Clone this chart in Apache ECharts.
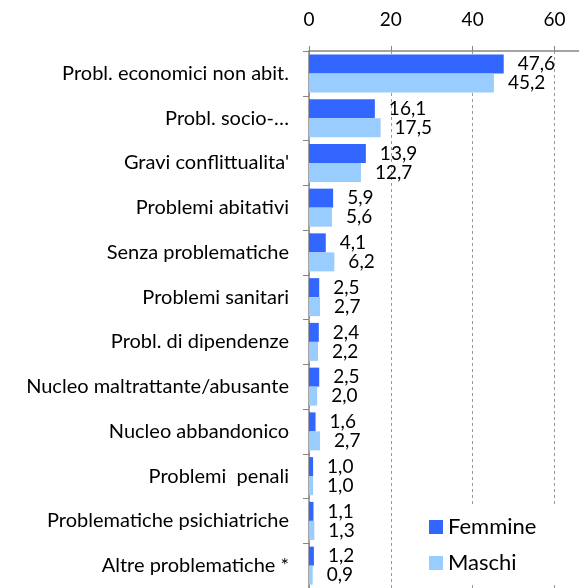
<!DOCTYPE html>
<html>
<head>
<meta charset="utf-8">
<script src="https://cdn.jsdelivr.net/npm/echarts@6/dist/echarts.min.js"></script>
<style>
  html, body { margin: 0; padding: 0; background: #fff; }
  #chart-container { width: 579px; height: 588px; }
</style>
</head>
<body>
<div id="chart-container"></div>
<script>
// categories, top to bottom
const categories = [
  "Probl. economici non abit.",
  "Probl. socio-\u2026",
  "Gravi conflittualita'",
  "Problemi abitativi",
  "Senza problematiche",
  "Problemi sanitari",
  "Probl. di dipendenze",
  "Nucleo maltrattante/abusante",
  "Nucleo abbandonico",
  "Problemi  penali",
  "Problematiche psichiatriche",
  "Altre problematiche *"
];
const femmine = [47.6, 16.1, 13.9, 5.9, 4.1, 2.5, 2.4, 2.5, 1.6, 1.0, 1.1, 1.2];
const maschi = [45.2, 17.5, 12.7, 5.6, 6.2, 2.7, 2.2, 2.0, 2.7, 1.0, 1.3, 0.9];
const seriesNames = ["Femmine", "Maschi"];

const FONT = "Lato";

const dom = document.getElementById("chart-container");
const myChart = echarts.init(dom, null, { renderer: "canvas" });

const valueLabel = {
  show: true,
  position: "right",
  distance: 14,
  color: "#000",
  fontFamily: FONT,
  fontSize: 19,
  formatter: (p) => p.value.toFixed(1).replace(".", ",")
};

const option = {
  animation: false,
  textStyle: { fontFamily: FONT },
  grid: { left: 309, top: 51, width: 270, height: 540, containLabel: false },
  legend: {
    orient: "vertical",
    left: 419,
    top: 506,
    padding: [10, 60, 8, 10],
    itemGap: 14,
    backgroundColor: "#fff",
    itemWidth: 14,
    itemHeight: 14,
    icon: "rect",
    data: seriesNames,
    textStyle: { fontFamily: FONT, fontSize: 22, color: "#000" }
  },
  xAxis: {
    type: "value",
    position: "top",
    min: 0,
    max: 66,
    interval: 20,
    axisLine: { show: true, lineStyle: { color: "#868686", width: 1.5 } },
    axisTick: { show: true, length: 5, lineStyle: { color: "#868686" } },
    axisLabel: {
      showMaxLabel: false,
      margin: 22,
      color: "#000",
      fontFamily: FONT,
      fontSize: 19
    },
    splitLine: { show: true, lineStyle: { color: "#999", type: [3, 3] } }
  },
  yAxis: {
    type: "category",
    inverse: true,
    data: categories,
    axisLine: { show: true, lineStyle: { color: "#868686", width: 1.5 } },
    axisTick: { show: true, length: 6, lineStyle: { color: "#868686" } },
    axisLabel: {
      margin: 20,
      color: "#000",
      fontFamily: FONT,
      fontSize: 20
    }
  },
  series: [
    {
      name: seriesNames[0],
      type: "bar",
      data: femmine,
      barWidth: 19,
      barGap: "0%",
      itemStyle: { color: "#3366FF" },
      label: valueLabel
    },
    {
      name: seriesNames[1],
      type: "bar",
      data: maschi,
      barWidth: 19,
      barGap: "0%",
      itemStyle: { color: "#99CCFF" },
      label: valueLabel
    }
  ]
};

myChart.setOption(option);
</script>
</body>
</html>
